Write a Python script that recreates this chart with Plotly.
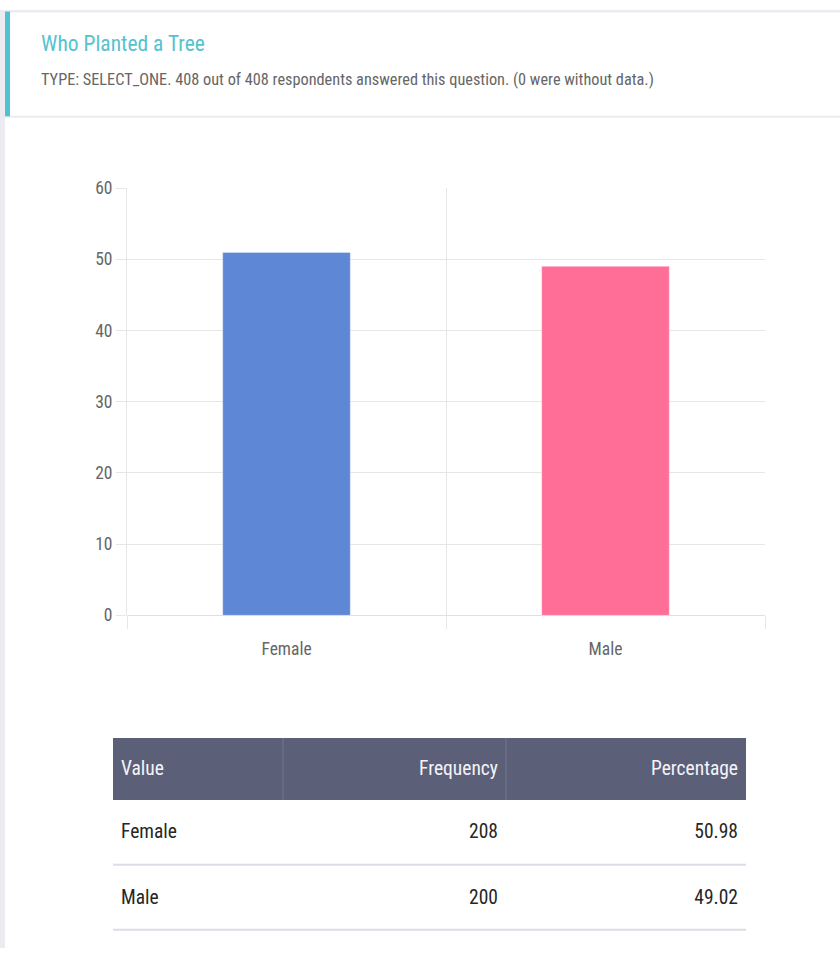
import plotly.graph_objects as go

W, H = 840, 958

categories = ["Female", "Male"]
frequency = [208, 200]
percentage = [50.98, 49.02]
bar_colors = ["#5e88d6", "#ff6e96"]
y_ticks = [0, 10, 20, 30, 40, 50, 60]

title_text = "Who Planted a Tree"
subtitle_text = ("TYPE: SELECT_ONE. 408 out of 408 respondents answered this question. "
                 "(0 were without data.)")
table_header = ["Value", "Frequency", "Percentage"]

# vertical calibration of the capture (content appears scaled/offset vertically)
V_OFF, V_SCALE = 8.5, 0.981

def px_x(v):
    return v / W

def px_y(v):
    d = (v - V_OFF) / V_SCALE
    return min(1.0, max(0.0, 1 - d / H))

FONT = "'Roboto Condensed', Roboto, sans-serif"

# table geometry (target pixels)
T_LEFT, T_RIGHT = 113, 746
T_TOP = 738
HEAD_H, ROW_H = 62, 65
COL_W = [170, 223, 240]
TEXT_SHIFT = 14  # plotly tables top-align text; offset so text sits centred

fig = go.Figure()

fig.add_trace(go.Bar(
    x=categories,
    y=percentage,
    marker=dict(color=bar_colors, line=dict(color="rgba(255,255,255,0.35)", width=1)),
    width=0.4,
    hoverinfo="skip",
    showlegend=False,
))

fig.add_trace(go.Table(
    domain=dict(x=[px_x(T_LEFT), px_x(T_RIGHT)], y=[0, px_y(T_TOP + TEXT_SHIFT)]),
    columnwidth=COL_W,
    header=dict(
        values=table_header,
        fill_color="rgba(0,0,0,0)",
        line=dict(color="rgba(0,0,0,0)", width=0),
        align=["left", "right", "right"],
        font=dict(family=FONT, size=19.5, color="#f4f4f8"),
        height=HEAD_H / V_SCALE,
    ),
    cells=dict(
        values=[categories, [str(f) for f in frequency], [f"{p:.2f}" for p in percentage]],
        fill_color="rgba(0,0,0,0)",
        line=dict(color="rgba(0,0,0,0)", width=0),
        align=["left", "right", "right"],
        font=dict(family=FONT, size=19.5, color="#262626"),
        height=ROW_H / V_SCALE,
    ),
))

shapes = [
    # page background strips
    dict(type="rect", xref="paper", yref="paper", x0=0, x1=1, y0=px_y(11), y1=1,
         fillcolor="#ebebf2", line=dict(width=0), layer="below"),
    dict(type="rect", xref="paper", yref="paper", x0=0, x1=px_x(5), y0=0, y1=1,
         fillcolor="#ebebf2", line=dict(width=0), layer="below"),
    # accent bar
    dict(type="rect", xref="paper", yref="paper", x0=px_x(5), x1=px_x(10), y0=px_y(115), y1=px_y(10),
         fillcolor="#4fc1cf", line=dict(width=0), layer="above"),
    # header separator
    dict(type="line", xref="paper", yref="paper", x0=px_x(5), x1=1, y0=px_y(115.5), y1=px_y(115.5),
         line=dict(color="#ebebf0", width=2), layer="below"),
    # table header background
    dict(type="rect", xref="paper", yref="paper", x0=px_x(T_LEFT), x1=px_x(T_RIGHT),
         y0=px_y(T_TOP + HEAD_H), y1=px_y(T_TOP),
         fillcolor="#5b6078", line=dict(width=0), layer="below"),
]
# header column dividers
xc = T_LEFT
for w in COL_W[:-1]:
    xc += w
    shapes.append(dict(type="line", xref="paper", yref="paper", x0=px_x(xc), x1=px_x(xc),
                       y0=px_y(T_TOP + HEAD_H), y1=px_y(T_TOP),
                       line=dict(color="#72778d", width=1), layer="below"))
# row separators
for i in range(1, len(categories) + 1):
    yy = T_TOP + HEAD_H + ROW_H * i
    shapes.append(dict(type="line", xref="paper", yref="paper", x0=px_x(T_LEFT), x1=px_x(T_RIGHT),
                       y0=px_y(yy), y1=px_y(yy),
                       line=dict(color="#dcdce8", width=2), layer="below"))

annotations = [
    dict(text=title_text, xref="paper", yref="paper", x=px_x(39), y=px_y(42),
         xanchor="left", yanchor="middle", showarrow=False,
         font=dict(family=FONT, size=21.5, color="#56c2d0")),
    dict(text=subtitle_text, xref="paper", yref="paper", x=px_x(39), y=px_y(78),
         xanchor="left", yanchor="middle", showarrow=False,
         font=dict(family=FONT, size=16.3, color="#666666")),
]

fig.update_layout(
    width=W, height=H,
    margin=dict(l=0, r=0, t=0, b=0),
    paper_bgcolor="#ffffff",
    plot_bgcolor="#ffffff",
    shapes=shapes,
    annotations=annotations,
    xaxis=dict(
        domain=[px_x(127), px_x(765)],
        type="category",
        tickson="boundaries",
        showgrid=True, gridcolor="#e6e6e6", gridwidth=1,
        ticks="outside", ticklen=13, tickcolor="#e6e6e6",
        ticklabelstandoff=21,
        showline=False, zeroline=False,
        tickfont=dict(family=FONT, size=17.5, color="#666666"),
        fixedrange=True,
    ),
    yaxis=dict(
        domain=[px_y(615), px_y(187)],
        range=[0, 60],
        tickvals=y_ticks,
        showgrid=True, gridcolor="#e6e6e6", gridwidth=1,
        ticks="outside", ticklen=10, tickcolor="#e6e6e6",
        showline=True, linecolor="#e6e6e6", linewidth=1,
        zeroline=True, zerolinecolor="#e0e0e0", zerolinewidth=1,
        tickfont=dict(family=FONT, size=17.5, color="#666666"),
        fixedrange=True,
    ),
)

post = ("document.documentElement.style.margin='0';"
        "document.body.style.margin='0';document.body.style.padding='0';"
        "document.body.style.overflow='hidden';"
        "var d=document.getElementById('{plot_id}');"
        "d.style.position='fixed';d.style.top='0px';d.style.left='0px';")

fig.write_html("out.html", config={"displayModeBar": False}, post_script=post)
